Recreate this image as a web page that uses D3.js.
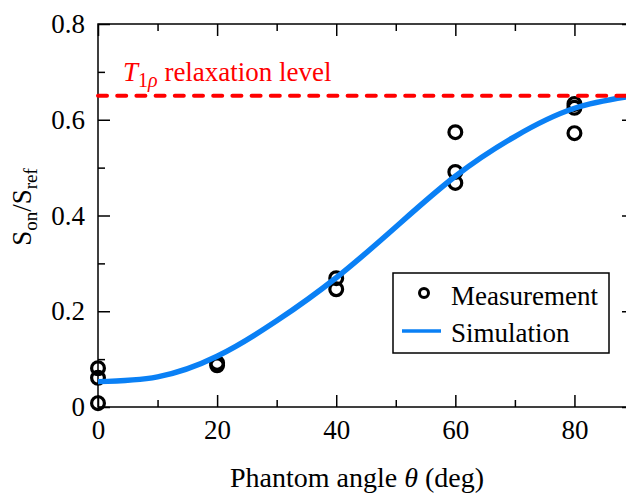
<!DOCTYPE html>
<html><head><meta charset="utf-8">
<script src="https://cdn.jsdelivr.net/npm/d3@7"></script>
<style>
html,body{margin:0;padding:0;background:#fff;}
svg{display:block;}
text{font-family:"Liberation Serif","Times New Roman",serif;}
</style></head>
<body><svg id="chart" width="626" height="495"></svg>
<script>
// ---- data ----
const measAngles = [0, 0, 0, 20, 20, 40, 40, 60, 60, 60, 80, 80, 80, 90, 90];
const measValues = [0.081, 0.061, 0.008, 0.087, 0.092, 0.269, 0.246, 0.574, 0.491, 0.468, 0.633, 0.625, 0.572, 0.665, 0.595];
const simAngles = [0, 10, 20, 30, 40, 50, 60, 70, 80, 90];
const simValues = [0.053, 0.063, 0.106, 0.180, 0.270, 0.376, 0.482, 0.565, 0.624, 0.650];
const relaxLevel = 0.65;
const xMajor = [0, 20, 40, 60, 80];
const xMinor = [10, 30, 50, 70, 90];
const yMajor = [0, 0.2, 0.4, 0.6, 0.8];
const yMinor = [0.1, 0.3, 0.5, 0.7];
const yTickLabels = ["0", "0.2", "0.4", "0.6", "0.8"];

// ---- layout ----
const L = 98, R = 634, T = 24, B = 407;
const svg = d3.select("#chart");
const x = d3.scaleLinear().domain([0, 90]).range([L, R]);
const y = d3.scaleLinear().domain([0, 0.8]).range([B, T]);
const FS = 27;

function styleAxis(g, labels) {
  g.select(".domain").remove();
  g.selectAll(".tick line").attr("stroke", "#000").attr("stroke-width", 1.5);
  g.selectAll(".tick text").attr("fill", "#000").style("font-size", FS + "px")
    .style("font-family", '"Liberation Serif","Times New Roman",serif');
  if (!labels) g.selectAll(".tick text").remove();
}

// bottom axis
svg.append("g").attr("transform", `translate(0,${B})`)
  .call(d3.axisBottom(x).tickValues(xMajor).tickSize(-12).tickPadding(13).tickFormat(d3.format("d")))
  .call(g => styleAxis(g, true));
svg.append("g").attr("transform", `translate(0,${B})`)
  .call(d3.axisBottom(x).tickValues(xMinor).tickSize(-7))
  .call(g => styleAxis(g, false));
// top axis
svg.append("g").attr("transform", `translate(0,${T})`)
  .call(d3.axisTop(x).tickValues(xMajor).tickSize(-12))
  .call(g => styleAxis(g, false));
svg.append("g").attr("transform", `translate(0,${T})`)
  .call(d3.axisTop(x).tickValues(xMinor).tickSize(-7))
  .call(g => styleAxis(g, false));
// left axis
svg.append("g").attr("transform", `translate(${L},0)`)
  .call(d3.axisLeft(y).tickValues(yMajor).tickSize(-12).tickPadding(13).tickFormat((d, i) => yTickLabels[i]))
  .call(g => styleAxis(g, true));
svg.append("g").attr("transform", `translate(${L},0)`)
  .call(d3.axisLeft(y).tickValues(yMinor).tickSize(-7))
  .call(g => styleAxis(g, false));
// right axis
svg.append("g").attr("transform", `translate(${R},0)`)
  .call(d3.axisRight(y).tickValues(yMajor).tickSize(-12))
  .call(g => styleAxis(g, false));
svg.append("g").attr("transform", `translate(${R},0)`)
  .call(d3.axisRight(y).tickValues(yMinor).tickSize(-7))
  .call(g => styleAxis(g, false));

// frame
svg.append("rect").attr("x", L).attr("y", T).attr("width", R - L).attr("height", B - T)
  .attr("fill", "none").attr("stroke", "#000").attr("stroke-width", 1.5);

// measurements
svg.append("g").selectAll("circle").data(measAngles.map((a, i) => [a, measValues[i]]))
  .join("circle")
  .attr("cx", d => x(d[0])).attr("cy", d => y(d[1])).attr("r", 6.4)
  .attr("fill", "none").attr("stroke", "#000").attr("stroke-width", 3.2);

// simulation curve
const line = d3.line().x(d => x(d[0])).y(d => y(d[1])).curve(d3.curveNatural);
svg.append("path").datum(simAngles.map((a, i) => [a, simValues[i]]))
  .attr("d", line).attr("fill", "none").attr("stroke", "#0a80f5").attr("stroke-width", 5.5);

// relaxation level
svg.append("line").attr("x1", x(0)).attr("x2", x(90)).attr("y1", y(relaxLevel)).attr("y2", y(relaxLevel))
  .attr("stroke", "#ff0000").attr("stroke-width", 4).attr("stroke-dasharray", "9,10.2")
  .attr("stroke-linecap", "round");

// red label
const rl = svg.append("text").attr("x", 123).attr("y", 81).attr("fill", "#ff0000").style("font-size", "27px");
rl.append("tspan").attr("font-style", "italic").text("T");
rl.append("tspan").attr("dy", 6).style("font-size", "20px").text("1");
rl.append("tspan").attr("font-style", "italic").style("font-size", "20px").text("ρ");
rl.append("tspan").attr("dy", -6).text(" relaxation level");

// axis titles
const xt = svg.append("text").attr("x", 357).attr("y", 487).attr("text-anchor", "middle").style("font-size", "28px").attr("fill", "#000");
xt.append("tspan").text("Phantom angle ");
xt.append("tspan").attr("font-style", "italic").text("θ");
xt.append("tspan").text(" (deg)");

const yt = svg.append("text").attr("transform", "translate(31,207) rotate(-90)").attr("text-anchor", "middle")
  .style("font-size", FS + "px").attr("fill", "#000");
yt.append("tspan").text("S");
yt.append("tspan").attr("dy", 6).style("font-size", "19px").text("on");
yt.append("tspan").attr("dy", -6).text("/S");
yt.append("tspan").attr("dy", 6).style("font-size", "19px").text("ref");

// legend
const lg = svg.append("g");
lg.append("rect").attr("x", 393).attr("y", 273).attr("width", 216).attr("height", 80)
  .attr("fill", "#fff").attr("stroke", "#000").attr("stroke-width", 1.5);
lg.append("circle").attr("cx", 424).attr("cy", 293).attr("r", 4.5)
  .attr("fill", "none").attr("stroke", "#000").attr("stroke-width", 3);
lg.append("line").attr("x1", 402).attr("x2", 441).attr("y1", 331).attr("y2", 331)
  .attr("stroke", "#0a80f5").attr("stroke-width", 3.5);
lg.append("text").attr("x", 451).attr("y", 305).style("font-size", FS + "px").text("Measurement");
lg.append("text").attr("x", 451).attr("y", 342).style("font-size", FS + "px").text("Simulation");
</script></body></html>
